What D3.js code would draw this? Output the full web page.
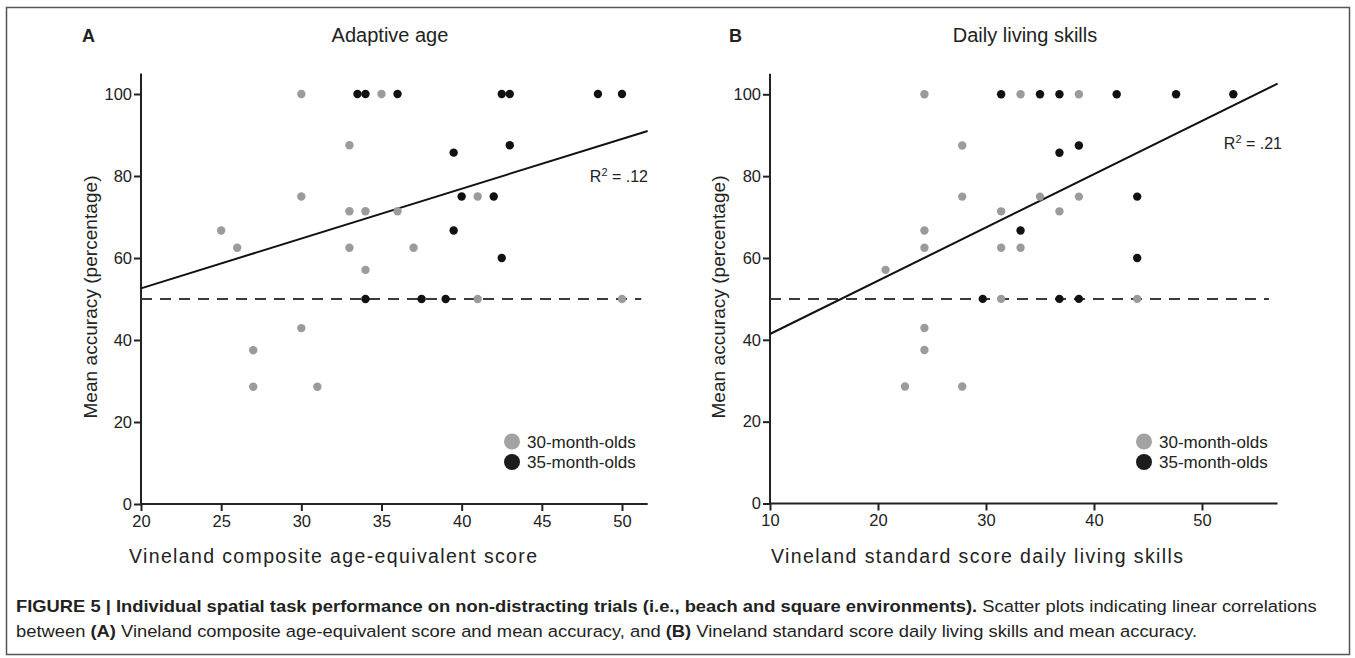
<!DOCTYPE html>
<html>
<head>
<meta charset="utf-8">
<script src="https://cdn.jsdelivr.net/npm/d3@7"></script>
<style>
  body { margin: 0; background: #fff; }
  svg { display: block; }
  text { font-family: "Liberation Sans", Arial, sans-serif; fill: #222; }
</style>
</head>
<body>
<script>
// values
var agesA30 = [30, 35, 33, 30, 41, 33, 34, 36, 25, 26, 33, 37, 34, 41, 50, 30, 27, 27, 31];
var accA30  = [100, 100, 87.5, 75, 75, 71.4, 71.4, 71.4, 66.7, 62.5, 62.5, 62.5, 57.1, 50, 50, 42.9, 37.5, 28.6, 28.6];
var agesA35 = [33.5, 34, 36, 42.5, 43, 48.5, 50, 39.5, 43, 40, 42, 39.5, 42.5, 34, 37.5, 39];
var accA35  = [100, 100, 100, 100, 100, 100, 100, 85.7, 87.5, 75, 75, 66.7, 60, 50, 50, 50];

var dlsB30 = [24.3, 33.2, 38.6, 27.8, 27.8, 35, 38.6, 31.4, 36.8, 24.3, 24.3, 31.4, 33.2, 20.7, 31.4, 44, 24.3, 24.3, 22.5, 27.8];
var accB30 = [100, 100, 100, 87.5, 75, 75, 75, 71.4, 71.4, 66.7, 62.5, 62.5, 62.5, 57.1, 50, 50, 42.9, 37.5, 28.6, 28.6];
var dlsB35 = [31.4, 35, 36.8, 42.1, 47.6, 52.9, 36.8, 38.6, 44, 33.2, 44, 29.7, 36.8, 38.6];
var accB35 = [100, 100, 100, 100, 100, 100, 85.7, 87.5, 75, 66.7, 60, 50, 50, 50];

// fitted lines: [intercept, slope]
var fitA = [28.3, 1.215];
var fitB = [28.4, 1.302];
var chanceLevel = 50;

var xTicksA = [20, 25, 30, 35, 40, 45, 50];
var xTicksB = [10, 20, 30, 40, 50];
var yTicks = [0, 20, 40, 60, 80, 100];
var groups = ["30-month-olds", "35-month-olds"];
var groupColors = ["#9b9b9b", "#111111"];

var width = 1355, height = 658;

var svg = d3.select("body").append("svg")
    .attr("width", width)
    .attr("height", height);

// outer frame
svg.append("rect")
    .attr("x", 6.5).attr("y", 7.5)
    .attr("width", 1343).attr("height", 647)
    .attr("fill", "none")
    .attr("stroke", "#555")
    .attr("stroke-width", 1.5);

function zip(xs, ys) {
    return xs.map(function(v, i) { return [v, ys[i]]; });
}

function drawPanel(p) {
    var x = d3.scaleLinear().domain(p.xDomain).range(p.xRange);
    var y = d3.scaleLinear().domain([0, 100]).range([p.y0, p.y100]);
    var g = svg.append("g");

    // axes
    var xAxis = d3.axisBottom(x).tickValues(p.xTicks).tickSize(7).tickPadding(4);
    var yAxis = d3.axisLeft(y).tickValues(yTicks).tickSize(7).tickPadding(2);

    var gx = g.append("g").attr("transform", "translate(0," + p.y0 + ")").call(xAxis);
    var gy = g.append("g").attr("transform", "translate(" + p.xRange[0] + ",0)").call(yAxis);
    [gx, gy].forEach(function(a) {
        a.select(".domain").remove();
        a.selectAll(".tick line").attr("stroke", "#222").attr("stroke-width", 2);
        a.selectAll(".tick text").attr("fill", "#222").style("font-size", "16.5px");
    });
    g.append("line")
        .attr("x1", p.xRange[0]).attr("x2", x(p.xMax))
        .attr("y1", p.y0).attr("y2", p.y0)
        .attr("stroke", "#222").attr("stroke-width", 2);
    g.append("line")
        .attr("x1", p.xRange[0]).attr("x2", p.xRange[0])
        .attr("y1", p.y0 + 1).attr("y2", y(p.yMax))
        .attr("stroke", "#222").attr("stroke-width", 2);

    // chance line
    g.append("line")
        .attr("x1", p.xRange[0]).attr("x2", x(p.dashEnd))
        .attr("y1", y(chanceLevel)).attr("y2", y(chanceLevel))
        .attr("stroke", "#3a3a3a").attr("stroke-width", 2)
        .attr("stroke-dasharray", "11,8");

    // regression
    g.append("line")
        .attr("x1", x(p.xDomain[0])).attr("y1", y(p.fit[0] + p.fit[1] * p.xDomain[0]))
        .attr("x2", x(p.xMax)).attr("y2", y(p.fit[0] + p.fit[1] * p.xMax))
        .attr("stroke", "#111").attr("stroke-width", 2);

    // points
    g.append("g").selectAll("circle")
        .data(p.young).enter().append("circle")
        .attr("cx", function(d) { return x(d[0]); })
        .attr("cy", function(d) { return y(d[1]); })
        .attr("r", 4.2).attr("fill", groupColors[0]);
    g.append("g").selectAll("circle")
        .data(p.old).enter().append("circle")
        .attr("cx", function(d) { return x(d[0]); })
        .attr("cy", function(d) { return y(d[1]); })
        .attr("r", 4.2).attr("fill", groupColors[1]);

    // R2
    var r2 = g.append("text")
        .attr("x", p.r2x).attr("y", p.r2y)
        .attr("text-anchor", "end")
        .style("font-size", "16px");
    r2.append("tspan").text("R");
    r2.append("tspan").attr("dy", -6).style("font-size", "11px").text("2");
    r2.append("tspan").attr("dy", 6).text(" = " + p.r2);

    // legend
    var lg = g.append("g").attr("transform", "translate(" + p.legX + "," + p.legY + ")");
    groups.forEach(function(name, i) {
        lg.append("circle").attr("cx", 0).attr("cy", i * 20.5).attr("r", 8)
            .attr("fill", i === 0 ? "#a3a3a3" : "#1c1c1c");
        lg.append("text").attr("x", 15).attr("y", i * 20.5 + 6)
            .style("font-size", "17px").text(name);
    });

    // titles and axis labels
    g.append("text").attr("x", p.letterX).attr("y", 42)
        .style("font-size", "18px").style("font-weight", "bold").attr("fill", "#111")
        .text(p.letter);
    g.append("text").attr("x", p.titleX).attr("y", 42)
        .attr("text-anchor", "middle").style("font-size", "20px")
        .text(p.title);
    g.append("text").attr("x", p.xLabelX).attr("y", 563)
        .attr("text-anchor", "middle").style("font-size", "19.5px")
        .attr("textLength", p.xLabelW).attr("lengthAdjust", "spacing")
        .text(p.xLabel);
    g.append("text")
        .attr("transform", "translate(" + p.yLabelX + ",297) rotate(-90)")
        .attr("text-anchor", "middle").style("font-size", "19px")
        .attr("textLength", 243).attr("lengthAdjust", "spacing")
        .text("Mean accuracy (percentage)");
}

drawPanel({
    xDomain: [20, 50], xRange: [141, 622], xMax: 51.6, dashEnd: 51.2,
    y0: 504, y100: 94, yMax: 105,
    xTicks: xTicksA, fit: fitA,
    young: zip(agesA30, accA30), old: zip(agesA35, accA35),
    r2: ".12", r2x: 648, r2y: 182,
    legX: 512, legY: 441.5,
    letter: "A", letterX: 82, title: "Adaptive age", titleX: 390,
    xLabel: "Vineland composite age-equivalent score", xLabelX: 333, xLabelW: 408,
    yLabelX: 97
});

drawPanel({
    xDomain: [10, 50], xRange: [770, 1202], xMax: 57, dashEnd: 56.2,
    y0: 503.5, y100: 94.3, yMax: 105,
    xTicks: xTicksB, fit: fitB,
    young: zip(dlsB30, accB30), old: zip(dlsB35, accB35),
    r2: ".21", r2x: 1282, r2y: 149,
    legX: 1144, legY: 441.5,
    letter: "B", letterX: 729, title: "Daily living skills", titleX: 1025,
    xLabel: "Vineland standard score daily living skills", xLabelX: 977, xLabelW: 412,
    yLabelX: 725
});

// caption
var capFont = '"Liberation Sans Narrow", "Liberation Sans", Arial, sans-serif';
function captionLine(parts, yPos, targetW) {
    var t = svg.append("text").attr("x", 0).attr("y", 0)
        .style("font-family", capFont).style("font-size", "16.5px").attr("fill", "#111");
    parts.forEach(function(pt) {
        t.append("tspan").style("font-weight", pt[1] ? "bold" : "normal").text(pt[0]);
    });
    var w = t.node().getComputedTextLength();
    t.attr("transform", "translate(16," + yPos + ") scale(" + (targetW / w) + ",1)");
}
captionLine([
    ["FIGURE 5 | Individual spatial task performance on non-distracting trials (i.e., beach and square environments).", true],
    [" Scatter plots indicating linear correlations", false]
], 612, 1302);
captionLine([
    ["between ", false], ["(A)", true],
    [" Vineland composite age-equivalent score and mean accuracy, and ", false],
    ["(B)", true],
    [" Vineland standard score daily living skills and mean accuracy.", false]
], 637, 1182);
</script>
</body>
</html>
